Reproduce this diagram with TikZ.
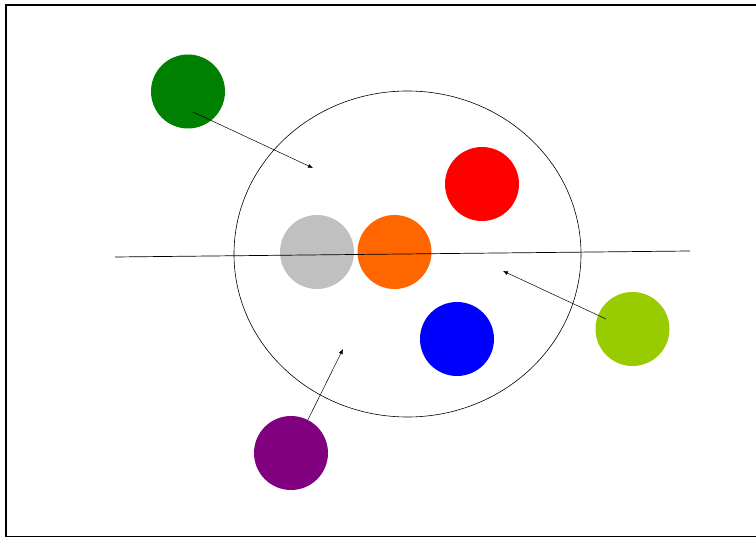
\documentclass[tikz,border=0pt]{standalone}
\usetikzlibrary{arrows.meta,positioning,calc}

\definecolor{dkgreen}{HTML}{008000}
\definecolor{ballgray}{HTML}{C0C0C0}
\definecolor{ballorange}{HTML}{FF6600}
\definecolor{limegreen}{HTML}{99CC00}
\definecolor{ballpurple}{HTML}{800080}

\tikzset{
  ball/.style={circle, minimum size=74pt, inner sep=0pt, draw=none},
  pointer/.style={line width=0.5pt, -{Latex[length=5pt,width=4pt]}}
}

\begin{document}
\begin{tikzpicture}[x=1pt, y=-1pt]

\useasboundingbox (0,0) rectangle (756,537);
\draw [line width=2.2pt] (6,5) rectangle (762,537.5);

% the balls
\node [ball, fill=dkgreen]     (g)  at (188,91.5) {};
\node [ball, fill=red]         (r)  at (482,184) {};
\node [ball, fill=ballgray]    (s)  at (317,252) {};
\node [ball, fill=ballorange]  (o)  at (394.5,252) {};
\node [ball, fill=blue]        (b)  at (457,339) {};
\node [ball, fill=limegreen]   (l)  at (632.5,329) {};
\node [ball, fill=ballpurple]  (p)  at (291,453) {};

% big circle and the line through it
\draw [line width=0.6pt] (407.5,254) ellipse (173.5 and 163);

\coordinate (west) at (115,257);
\coordinate (east) at (690,251);
\draw [line width=0.7pt] (west) -- (east);

% arrows
\coordinate (gtail) at (193,112);
\coordinate (ghead) at (313,168);
\coordinate (ltail) at (606,319);
\coordinate (lhead) at (503,271);
\coordinate (phead) at (343,349);

\begin{scope}[pointer]
\draw (gtail) -- (ghead);
\draw (ltail) -- (lhead);
\draw (p.63) -- (phead);
\end{scope}

\end{tikzpicture}
\end{document}
